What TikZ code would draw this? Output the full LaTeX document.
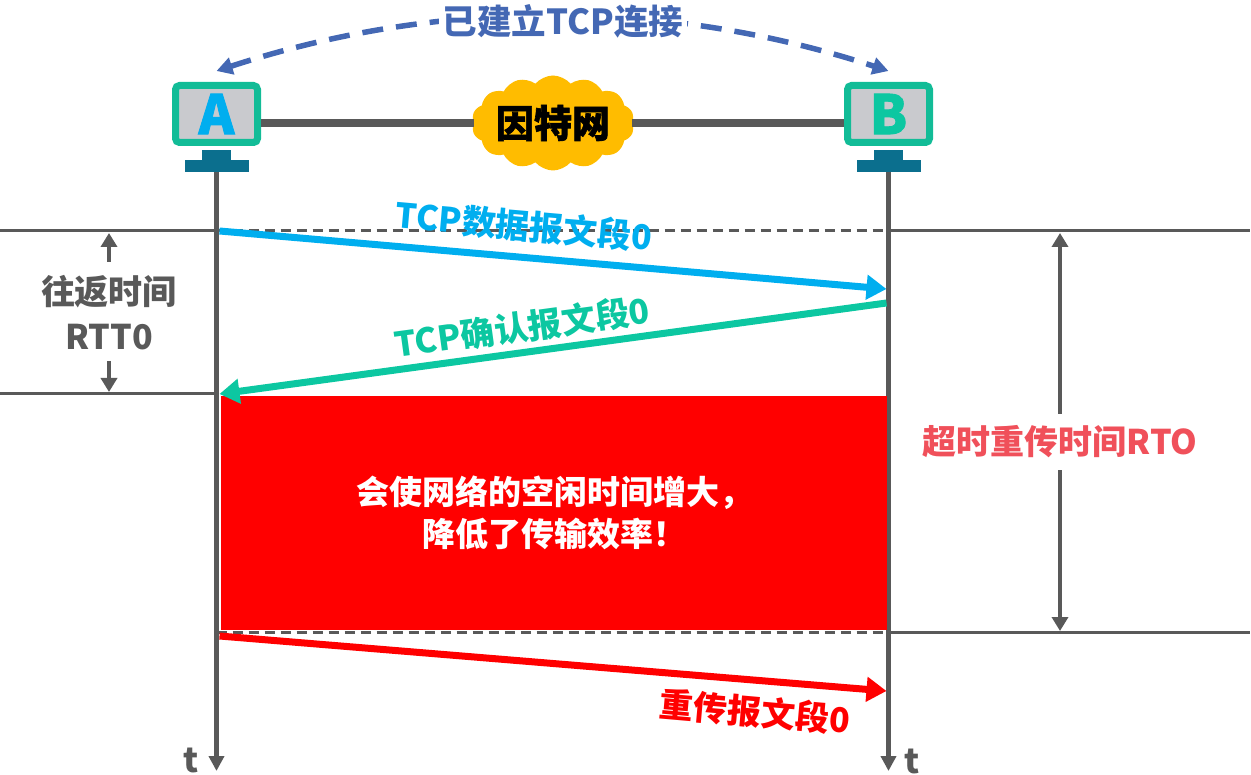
\documentclass[tikz,border=0pt]{standalone}
\usepackage{fontspec}
\setmainfont{Noto Sans CJK SC}
\newfontfamily\heavyfont{Noto Sans CJK SC}[BoldFeatures={FakeBold=1.6}]
\usetikzlibrary{arrows.meta,positioning,calc,shapes.symbols}
\definecolor{linegray}{HTML}{595959}
\definecolor{frame}{HTML}{12BC97}
\definecolor{screen}{HTML}{C9CACE}
\definecolor{stand}{HTML}{0B6F8E}
\definecolor{linkblue}{HTML}{4468B4}
\definecolor{databl}{HTML}{00AEEF}
\definecolor{ackgreen}{HTML}{0CC7A1}
\definecolor{rtored}{HTML}{F0505A}
\definecolor{cloudy}{HTML}{FFBC00}
\tikzset{
  host/.style={draw=frame,fill=screen,line width=7pt,rounded corners=4pt,
    minimum width=82pt,minimum height=57pt,inner sep=0pt,font=\fontsize{54}{54}\heavyfont\bfseries},
  neck/.style={fill=stand,minimum width=29pt,minimum height=10pt,inner sep=0pt},
  foot/.style={fill=stand,minimum width=64pt,minimum height=12pt,inner sep=0pt},
  msg/.style={inner sep=0pt,font=\fontsize{34}{40}\selectfont\bfseries},
  note/.style={inner sep=0pt,align=center,text=linegray,font=\fontsize{34}{45}\selectfont\bfseries},
  timeline/.style={-{Triangle[length=15pt,width=15pt]},draw=linegray,line width=5pt},
  level/.style={draw=linegray,line width=3pt},
  levelgap/.style={draw=linegray,line width=3pt,dash pattern=on 10pt off 6pt},
  span/.style={{Triangle[length=14pt,width=16pt]}-{Triangle[length=14pt,width=16pt]},draw=linegray,line width=4.5pt},
  send/.style={-{Triangle[length=20pt,width=24pt]},line width=7pt}
}
\begin{document}
\begin{tikzpicture}[x=1pt,y=-1pt,node distance=4pt]
  \useasboundingbox (0,0) rectangle (1251,775);
  % hosts
  \node[host,text=databl] (hostA) at (216.5,114) {A};
  \node[neck,below=of hostA] (neckA) {};
  \node[foot,below=-1pt of neckA] (footA) {};
  \node[host,text=ackgreen] (hostB) at (888.5,114) {B};
  \node[neck,below=of hostB] (neckB) {};
  \node[foot,below=-1pt of neckB] (footB) {};
  % time axes and levels
  \coordinate (endA) at (footA.south |- 0,771);
  \coordinate (endB) at (footB.south |- 0,771);
  \coordinate (sendA) at (footA.south |- 0,231);
  \coordinate (sendB) at (footB.south |- 0,231);
  \coordinate (backA) at (footA.south |- 0,394);
  \coordinate (timeoutA) at (footA.south |- 0,632);
  \coordinate (timeoutB) at (footB.south |- 0,632);
  \coordinate (edgeL) at (0,231);
  \coordinate (edgeR) at (1250,231);
  \coordinate (edgeL2) at (0,394);
  \coordinate (edgeR2) at (1250,632);
  \draw[level] (edgeL) -- (sendA);
  \draw[levelgap] (sendA) -- (sendB);
  \draw[level] (sendB) -- (edgeR);
  \draw[level] (edgeL2) -- (backA);
  \draw[levelgap] (timeoutA) -- (timeoutB);
  \draw[level] (timeoutB) -- (edgeR2);
  \draw[timeline] (footA.south) -- (endA);
  \draw[timeline] (footB.south) -- (endB);
  \node[note,left=18pt of endA,yshift=11pt] (tA) {t};
  \node[note,right=16pt of endB,yshift=10pt] (tB) {t};
  % network
  \node[cloud,cloud puffs=14,cloud puff arc=100,cloud ignores aspect,fill=cloudy,inner sep=0pt,
    minimum width=152pt,minimum height=95pt,font=\fontsize{38}{38}\heavyfont\bfseries] (net) at (553,123) {因特网};
  \coordinate (portA) at ($(hostA.east)+(0,9)$);
  \coordinate (portB) at ($(hostB.west)+(0,9)$);
  \draw[linegray,line width=8pt] (portA) -- (portA -| net.west);
  \draw[linegray,line width=8pt] (portB) -- (portB -| net.east);
  % connection arc
  \coordinate (arcA) at ($(hostA.north)+(0,-11)$);
  \coordinate (arcB) at ($(hostB.north)+(0,-11)$);
  \draw[{Triangle[length=16pt,width=17pt]}-{Triangle[length=16pt,width=17pt]},linkblue,line width=5.5pt,dash pattern=on 21pt off 13pt]
    (arcA) .. controls (440,-2) and (665,-2) .. (arcB);
  \node[msg,fill=white,inner xsep=4pt,inner ysep=0pt,text=linkblue,font=\fontsize{34.5}{40}\selectfont\bfseries] (linkLabel) at (563,21) {已建立TCP连接};
  % idle area
  \node[fill=red,text=white,align=center,minimum width=666pt,minimum height=234pt,inner sep=0pt,
    font=\fontsize{33}{42}\selectfont\bfseries] (idle) at (554,513) {\raisebox{-2pt}{会使网络的空闲时间增大，}\\\raisebox{-2pt}{降低了传输效率！}};
  % messages
  \coordinate (dataB) at ($(endB |- 0,289)+(-2,0)$);
  \coordinate (ackB) at ($(endB |- 0,303)+(-2,0)$);
  \coordinate (ackA) at ($(endA |- 0,394)+(3,0)$);
  \coordinate (redoA) at ($(endA |- 0,636)+(3,0)$);
  \coordinate (redoB) at ($(endB |- 0,691)+(-2,0)$);
  \draw[send,databl] ($(sendA)+(3,0)$) -- (dataB);
  \draw[send,ackgreen] (ackB) -- (ackA);
  \draw[send,red] (redoA) -- (redoB);
  \node[msg,text=databl,rotate=-5] (dataLabel) at (524,226) {TCP数据报文段0};
  \node[msg,text=ackgreen,rotate=7.8] (ackLabel) at (522,327) {TCP确认报文段0};
  \node[msg,text=red,rotate=-5] (redoLabel) at (755,712) {重传报文段0};
  % RTT
  \node[note] (rtt) at (109,313) {往返时间\\RTT0};
  \coordinate (rttTop) at (rtt |- 0,233);
  \coordinate (rttBot) at (rtt |- 0,392);
  \draw[-{Triangle[length=14pt,width=16pt]},draw=linegray,line width=4.5pt] (rtt |- 0,262) -- (rttTop);
  \draw[-{Triangle[length=14pt,width=16pt]},draw=linegray,line width=4.5pt] (rtt |- 0,361) -- (rttBot);
  % RTO
  \coordinate (rtoTop) at (1060,233);
  \coordinate (rtoBot) at (1060,631);
  \draw[span] (rtoTop) -- (rtoBot);
  \node[msg,fill=white,inner ysep=12pt,inner xsep=0pt,text=rtored] (rto) at (1060,442) {超时重传时间RTO};
\end{tikzpicture}
\end{document}
